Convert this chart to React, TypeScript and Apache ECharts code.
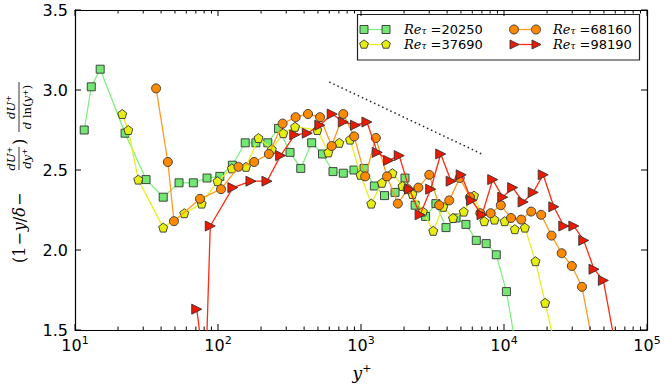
import React, { useEffect, useRef } from "react";
import * as echarts from "echarts";

// ---- data ----
const legendLabels = ["20250", "37690", "68160", "98190"];

const re20250X = [11.6, 13.0, 15.0, 22.4, 31.4, 41.4, 53.4, 67.2, 83.8, 103, 126, 155, 184, 223, 265, 319, 379, 452, 538, 637, 752, 893, 1050, 1240, 1460, 1730, 2030, 2390, 2830, 3340, 3930, 4620, 5420, 6400, 7510, 8830, 10400, 12300];
const re20250Y = [2.75, 3.02, 3.13, 2.73, 2.44, 2.33, 2.42, 2.42, 2.45, 2.46, 2.53, 2.67, 2.67, 2.67, 2.76, 2.61, 2.51, 2.67, 2.60, 2.49, 2.48, 2.50, 2.51, 2.40, 2.34, 2.36, 2.45, 2.28, 2.21, 2.29, 2.14, 2.20, 2.16, 2.06, 2.04, 1.97, 1.74, 1.36];

const re37690X = [21.4, 23.6, 27.7, 41.4, 58.1, 76.9, 99.2, 125, 157, 192, 238, 286, 346, 495, 591, 705, 838, 992, 1180, 1400, 1660, 1950, 2290, 2710, 3200, 3760, 4400, 5230, 6170, 7280, 8580, 10100, 11900, 14000, 16600, 19400, 22900];
const re37690Y = [2.85, 2.75, 2.44, 2.14, 2.23, 2.29, 2.43, 2.51, 2.52, 2.70, 2.63, 2.73, 2.77, 2.75, 2.61, 2.67, 2.69, 2.47, 2.29, 2.42, 2.48, 2.40, 2.35, 2.24, 2.12, 2.27, 2.20, 2.24, 2.34, 2.18, 2.19, 2.18, 2.13, 2.14, 1.93, 1.67, 1.39];

const re68160X = [36.9, 44.6, 49.2, 74.8, 105, 139, 179, 227, 283, 349, 426, 517, 624, 752, 896, 1070, 1270, 1520, 1810, 2120, 2520, 3000, 3520, 4140, 4900, 5790, 6830, 8070, 9500, 11200, 13200, 15500, 18200, 21500, 25300, 29800, 35100, 41600];
const re68160Y = [3.01, 2.55, 2.18, 2.32, 2.38, 2.52, 2.55, 2.60, 2.79, 2.83, 2.85, 2.83, 2.65, 2.85, 2.71, 2.46, 2.70, 2.46, 2.29, 2.38, 2.39, 2.47, 2.28, 2.31, 2.45, 2.33, 2.23, 2.23, 2.28, 2.20, 2.19, 2.24, 2.22, 2.09, 1.98, 1.90, 1.77, 1.42];

const re98190X = [71.0, 81.8, 88.3, 127, 170, 220, 274, 344, 421, 515, 629, 752, 915, 1100, 1300, 1560, 1850, 2180, 2590, 3070, 3610, 4270, 5020, 5930, 7020, 8340, 9800, 11500, 13600, 16000, 18800, 22300, 26200, 30800, 36100, 42600, 49500, 59300];
const re98190Y = [1.63, 1.20, 2.15, 2.39, 2.43, 2.43, 2.59, 2.72, 2.73, 2.78, 2.85, 2.80, 2.78, 2.80, 2.61, 2.56, 2.59, 2.38, 2.22, 2.38, 2.60, 2.43, 2.47, 2.31, 2.22, 2.44, 2.33, 2.39, 2.30, 2.36, 2.47, 2.27, 2.15, 2.15, 2.06, 1.88, 1.81, 1.43];

const slopeX = [600, 7000];
const slopeY = [3.05, 2.6];

const yTicks = [1.5, 2.0, 2.5, 3.0, 3.5];
const xMajorTicks = [10, 100, 1000, 10000, 100000];
const xMinorTicks = [
  20, 30, 40, 50, 60, 70, 80, 90,
  200, 300, 400, 500, 600, 700, 800, 900,
  2000, 3000, 4000, 5000, 6000, 7000, 8000, 9000,
  20000, 30000, 40000, 50000, 60000, 70000, 80000, 90000,
];

// ---- styles ----
const SANS = "DejaVu Sans";
const SERIF = "DejaVu Serif";
const EDGE = "#333333";
const PENTAGON = "path://M0,-10 L9.51,-3.09 L5.88,8.09 L-5.88,8.09 L-9.51,-3.09 Z";
const TRI_RIGHT = "path://M10,0 L-7,-8.5 L-7,8.5 Z";

const styles = [
  { line: "#80f080", fill: "#72e872", symbol: "rect", size: 8 },
  { line: "#e8f020", fill: "#e6ee10", symbol: PENTAGON, size: 9 },
  { line: "#ff9a20", fill: "#ff8a00", symbol: "circle", size: 9 },
  { line: "#ff2a10", fill: "#ee1a00", symbol: TRI_RIGHT, size: 10 },
];

function markerGraphic(i: number, cx: number, cy: number) {
  const s = styles[i];
  const st = { fill: s.fill, stroke: EDGE, lineWidth: 0.9 };
  if (i === 0) return { type: "rect", shape: { x: cx - 4, y: cy - 4, width: 8, height: 8 }, style: st };
  if (i === 2) return { type: "circle", shape: { cx, cy, r: 4.5 }, style: st };
  if (i === 1) {
    const pts: number[][] = [];
    for (let k = 0; k < 5; k++) {
      const a = -Math.PI / 2 + (k * 2 * Math.PI) / 5;
      pts.push([cx + 4.6 * Math.cos(a), cy + 4.6 * Math.sin(a)]);
    }
    return { type: "polygon", shape: { points: pts }, style: st };
  }
  return { type: "polygon", shape: { points: [[cx + 5, cy], [cx - 4, cy - 4.5], [cx - 4, cy + 4.5]] }, style: st };
}

function legendEntry(i: number, mx: number, tx: number, y: number) {
  const s = styles[i];
  return [
    { type: "line", shape: { x1: mx, y1: y, x2: mx + 22, y2: y }, style: { stroke: s.line, lineWidth: 1.3 } },
    markerGraphic(i, mx, y),
    markerGraphic(i, mx + 22, y),
    {
      type: "text",
      x: tx,
      y,
      style: {
        text: `{re|Re}{sub|τ}{n| =${legendLabels[i]}}`,
        align: "left",
        textAlign: "left",
        verticalAlign: "middle",
        textVerticalAlign: "middle",
        fill: "#000",
        rich: {
          re: { fontFamily: SERIF, fontStyle: "italic", fontSize: 13, lineHeight: 12, verticalAlign: "middle" },
          sub: { fontFamily: SERIF, fontStyle: "italic", fontSize: 9, lineHeight: 12, verticalAlign: "bottom" },
          n: { fontFamily: SANS, fontSize: 13, lineHeight: 12, verticalAlign: "middle" },
        },
      },
    },
  ];
}

const titleRich = {
  u: { fontFamily: SERIF, fontSize: 16 },
  i: { fontFamily: SERIF, fontSize: 16, fontStyle: "italic" },
  m: { fontFamily: SERIF, fontSize: 16, padding: [0, 1, 0, 1] },
  fi: { fontFamily: SERIF, fontSize: 11.5, fontStyle: "italic" },
  fu: { fontFamily: SERIF, fontSize: 11.5 },
  fs: { fontFamily: SERIF, fontSize: 8, verticalAlign: "top", lineHeight: 8 },
};

function t(x: number, y: number, text: string, align: string) {
  return {
    type: "text",
    x,
    y,
    style: {
      text,
      align,
      textAlign: align,
      verticalAlign: "middle",
      textVerticalAlign: "middle",
      fill: "#000",
      rich: titleRich,
    },
  };
}

const yTitle = {
  type: "group",
  x: 19,
  y: 263,
  rotation: Math.PI / 2,
  children: [
    t(0, 0, "{u|(1}{m|−}{i|y}{u|/}{i|δ}{m|−}", "left"),
    t(104.5, -8, "{fi|dU}{fs|+}", "center"),
    { type: "line", shape: { x1: 93, y1: 0, x2: 116, y2: 0 }, style: { stroke: "#000", lineWidth: 0.8 } },
    t(104.5, 7.5, "{fi|dy}{fs|+}", "center"),
    t(118, 0, "{u|)}", "left"),
    t(156, -8.5, "{fi|dU}{fs|+}", "center"),
    { type: "line", shape: { x1: 131, y1: 0, x2: 181, y2: 0 }, style: { stroke: "#000", lineWidth: 0.8 } },
    t(156, 8, "{fi|d}{fu| ln(}{fi|y}{fs|+}{fu|)}", "center"),
  ],
};

const xTitle = {
  type: "text",
  x: 362,
  y: 373,
  style: {
    text: "{i|y}{s|+}",
    align: "center",
    textAlign: "center",
    verticalAlign: "middle",
    textVerticalAlign: "middle",
    fill: "#000",
    rich: {
      i: { fontFamily: SERIF, fontSize: 17, fontStyle: "italic", lineHeight: 20 },
      s: { fontFamily: SERIF, fontSize: 11, verticalAlign: "top", lineHeight: 20 },
    },
  },
};

const legendBox = {
  type: "group",
  children: [
    { type: "rect", shape: { x: 357.5, y: 14.5, width: 282, height: 45.5 }, style: { fill: "#fff", stroke: "#222", lineWidth: 1.2 } },
    ...legendEntry(0, 364, 404, 29.5),
    ...legendEntry(1, 364, 404, 44.5),
    ...legendEntry(2, 514, 553, 29.5),
    ...legendEntry(3, 514, 553, 44.5),
  ],
};

function lineSeries(i: number, xs: number[], ys: number[]) {
  const s = styles[i];
  return {
    type: "line",
    name: "Re_τ =" + legendLabels[i],
    data: xs.map((x, k) => [x, ys[k]]),
    symbol: s.symbol,
    symbolSize: s.size,
    showAllSymbol: true,
    clip: true,
    z: 3 + i,
    lineStyle: { color: s.line, width: 1.3 },
    itemStyle: { color: s.fill, borderColor: EDGE, borderWidth: 0.9 },
    emphasis: { disabled: true },
  };
}

const axisLineStyle = { color: "#000", width: 1.2 };
const TICK = { stroke: "#000", lineWidth: 1, fill: null };

export default function App() {
  const ref = useRef<HTMLDivElement>(null);
  useEffect(() => {
    if (!ref.current) return;
    const chart = echarts.init(ref.current, undefined, { renderer: "svg" });
    // tick items: [x, y, kind]  kind 0 = x minor, 1 = x major, 2 = y major
    const tickItems: number[][] = [
      ...xMinorTicks.map((v) => [v, yTicks[0], 0]),
      ...xMajorTicks.map((v) => [v, yTicks[0], 1]),
      ...yTicks.map((v) => [xMajorTicks[0], v, 2]),
    ];
    const logAxisBase = {
      type: "log",
      logBase: 10,
      min: 10,
      max: 100000,
      axisLine: { show: true, lineStyle: axisLineStyle },
      axisTick: { show: false },
      splitLine: { show: false },
    };
    const valAxisBase = {
      type: "value",
      min: yTicks[0],
      max: yTicks[yTicks.length - 1],
      interval: 0.5,
      axisLine: { show: true, lineStyle: axisLineStyle },
      axisTick: { show: false },
      splitLine: { show: false },
    };
    chart.setOption({
      animation: false,
      backgroundColor: "#ffffff",
      grid: { left: 75, right: 17, top: 10, bottom: 58, containLabel: false },
      xAxis: [
        {
          ...logAxisBase,
          position: "bottom",
          axisLabel: {
            margin: 5,
            color: "#000",
            formatter: (v: number) => `{b|10}{s|${Math.round(Math.log10(v))}}`,
            rich: {
              b: { fontFamily: SANS, fontSize: 16, lineHeight: 20, color: "#000" },
              s: { fontFamily: SANS, fontSize: 11, lineHeight: 11, verticalAlign: "top", color: "#000" },
            },
          },
        },
        { ...logAxisBase, position: "top", axisLabel: { show: false } },
      ],
      yAxis: [
        {
          ...valAxisBase,
          position: "left",
          axisLabel: {
            margin: 7,
            color: "#000",
            fontFamily: SANS,
            fontSize: 16,
            formatter: (v: number) => v.toFixed(1),
          },
        },
        { ...valAxisBase, position: "right", axisLabel: { show: false } },
      ],
      series: [
        lineSeries(0, re20250X, re20250Y),
        lineSeries(1, re37690X, re37690Y),
        lineSeries(2, re68160X, re68160Y),
        lineSeries(3, re98190X, re98190Y),
        {
          type: "line",
          name: "slope",
          data: slopeX.map((x, k) => [x, slopeY[k]]),
          symbol: "none",
          z: 2,
          lineStyle: { color: "#222", width: 1.5, type: [1.5, 3] },
          emphasis: { disabled: true },
        },
        {
          type: "custom",
          name: "ticks",
          coordinateSystem: "cartesian2d",
          silent: true,
          clip: false,
          z: 20,
          data: tickItems,
          encode: { x: 0, y: 1 },
          renderItem: (params: any, api: any) => {
            const kind = api.value(2);
            const p = api.coord([api.value(0), api.value(1)]);
            const cs = params.coordSys;
            const top = cs.y;
            const bottom = cs.y + cs.height;
            const left = cs.x;
            const right = cs.x + cs.width;
            if (kind === 2) {
              return {
                type: "group",
                children: [
                  { type: "line", shape: { x1: left, y1: p[1], x2: left + 6, y2: p[1] }, style: TICK },
                  { type: "line", shape: { x1: right, y1: p[1], x2: right - 6, y2: p[1] }, style: TICK },
                ],
              };
            }
            const len = kind === 1 ? 6 : 3.5;
            return {
              type: "group",
              children: [
                { type: "line", shape: { x1: p[0], y1: bottom, x2: p[0], y2: bottom - len }, style: TICK },
                { type: "line", shape: { x1: p[0], y1: top, x2: p[0], y2: top + len }, style: TICK },
              ],
            };
          },
        },
      ],
      graphic: [yTitle, xTitle, legendBox],
    });
    return () => chart.dispose();
  }, []);
  return (
    <div
      ref={ref}
      style={{ position: "absolute", left: 0, top: 0, width: 664, height: 388, background: "#fff" }}
    />
  );
}
